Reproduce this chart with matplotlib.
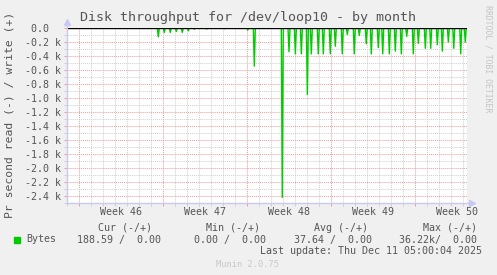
import numpy as np
import matplotlib
matplotlib.use("Agg")
import matplotlib.pyplot as plt
from matplotlib.ticker import FixedLocator, MultipleLocator

# days since left edge of the graph, read throughput (bytes/s)
spike_days = [7.61, 8.11, 8.61, 9.11, 9.61, 10.11, 10.61, 11.64, 13.11, 15.06,
              15.61, 17.94, 18.50, 19.03, 19.53, 20.03, 20.36, 20.94, 21.36, 21.94,
              22.36, 22.94, 23.36, 23.94, 24.36, 24.94, 25.36, 25.94, 26.31, 26.86,
              27.36, 27.86, 28.31, 28.86, 29.28, 29.86, 30.31, 30.86, 31.28, 31.78,
              32.23, 32.81, 33.19]
spike_read = [126, 64, 64, 50, 64, 40, 17, 15, 10, 30,
              545, 2420, 340, 370, 370, 950, 370, 370, 370, 370,
              260, 370, 93, 370, 107, 226, 370, 280, 370, 370,
              330, 370, 120, 370, 220, 290, 290, 240, 330, 200,
              290, 370, 200]
week_labels = ["Week 46", "Week 47", "Week 48", "Week 49", "Week 50"]
week_starts = [1, 8, 15, 22, 29]
span_days = 400 / 12.0

legend_cols = ["Cur (-/+)", "Min (-/+)", "Avg (-/+)", "Max (-/+)"]
legend_vals = ["188.59 /  0.00", "0.00 /  0.00", "37.64 /  0.00", "36.22k/  0.00"]

# build the sampled series: zero baseline with one 2h sample per spike
step = 1 / 12.0
t = [0.0]
v = [0.0]
for d, r in zip(spike_days, spike_read):
    t += [d - step, d, d + step]
    v += [0.0, -r, 0.0]
t.append(span_days)
v.append(0.0)

W, H = 497, 275
mono = "DejaVu Sans Mono"
txt = "#555555"
fig = plt.figure(figsize=(W / 100, H / 100), dpi=100, facecolor="#f0f0f0")
ax = fig.add_axes([67 / W, 1 - 203 / H, 400 / W, 175 / H])
ax.set_facecolor("white")

ax.set_xlim(0, span_days)
ax.set_ylim(-2500, 0)

ax.xaxis.set_major_locator(FixedLocator(week_starts))
ax.xaxis.set_minor_locator(MultipleLocator(1))
ax.yaxis.set_major_locator(MultipleLocator(200))
ax.yaxis.set_minor_locator(MultipleLocator(100))

ax.grid(which="minor", color="#cfcfcf", linestyle=(0, (1, 1)), linewidth=0.7)
ax.grid(which="major", color="#f09a9a", linestyle=(0, (1, 1)), linewidth=0.7)
ax.set_axisbelow(True)

ax.tick_params(which="major", length=2, width=0.7, color="#f09a9a", labelsize=7.2,
               labelcolor=txt, pad=2)
ax.tick_params(which="minor", length=2, width=0.7, color="#cfcfcf")
ax.set_xticklabels([])

yt = np.arange(0, -2401, -200)
ax.set_yticks(yt)
ax.set_yticklabels(["0.0  "] + ["%.1f k" % (y / 1000) for y in yt[1:]], family=mono)

for s in ax.spines.values():
    s.set_visible(False)

ax.plot(t, v, color="#00cc00", linewidth=1.0, zorder=3)
ax.axhline(0, color="black", linewidth=1.0, zorder=4)

# rrdtool style axes with arrows
axc = "#c8c8f4"
ax.plot([0, 0], [0, 1.035], transform=ax.transAxes, color=axc, lw=1, clip_on=False, zorder=5)
ax.plot([0, 1.012], [0, 0], transform=ax.transAxes, color=axc, lw=1, clip_on=False, zorder=5)
ax.plot([0], [1.035], transform=ax.transAxes, marker="^", ms=4, color=axc, clip_on=False, zorder=5)
ax.plot([1.012], [0], transform=ax.transAxes, marker=">", ms=4, color=axc, clip_on=False, zorder=5)

for ws, lab in zip(week_starts, week_labels):
    ax.text(ws + 3.5, -0.05, lab, transform=ax.get_xaxis_transform(), ha="center",
            va="center", family=mono, fontsize=7.2, color=txt)


def ftext(x, y, s, **kw):
    kw.setdefault("family", mono)
    kw.setdefault("fontsize", 7.2)
    kw.setdefault("color", txt)
    kw.setdefault("va", "center")
    fig.text(x / W, 1 - y / H, s, **kw)


ftext(248.5, 18, "Disk throughput for /dev/loop10 - by month", ha="center", fontsize=9.6)
ftext(10, 115, "Pr second read (-) / write (+)", ha="center", rotation=90, fontsize=8.2)
ftext(488, 59, "RRDTOOL / TOBI OETIKER", ha="center", rotation=270, fontsize=5.9, color="#c4c4c4")

col_right = [152, 260, 368, 477]
for xr, lab in zip(col_right, legend_cols):
    ftext(xr, 228, lab, ha="right")
val_right = [161, 266, 372, 477]
for xr, lab in zip(val_right, legend_vals):
    ftext(xr, 239.5, lab, ha="right")
fig.patches.append(plt.Rectangle((14 / W, 1 - 242.5 / H), 6 / W, 6 / H,
                                 transform=fig.transFigure, color="#00cc00"))
ftext(26.5, 239.5, "Bytes", ha="left")
ftext(482, 251.5, "Last update: Thu Dec 11 05:00:04 2025", ha="right")
ftext(248, 264.5, "Munin 2.0.75", ha="center", color="#c8c8c8", fontsize=6.2)

fig.savefig("out.png", dpi=100, facecolor=fig.get_facecolor())
